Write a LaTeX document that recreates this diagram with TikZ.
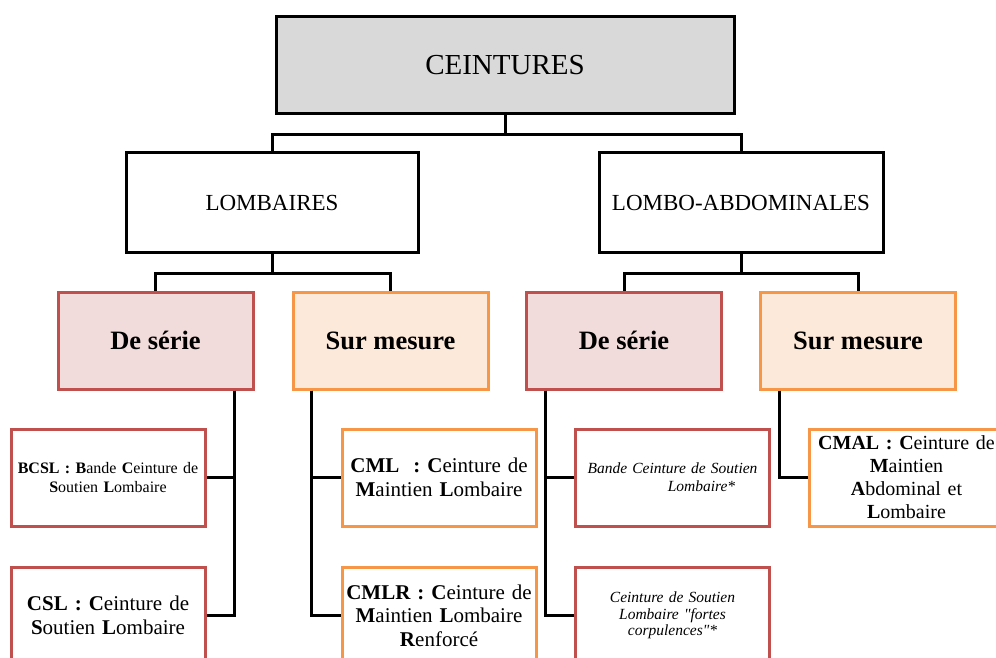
\documentclass[tikz,border=0pt]{standalone}
\usepackage{fontspec}
\setmainfont{Liberation Serif}
\definecolor{greyfill}{HTML}{D9D9D9}
\definecolor{rosefill}{HTML}{F2DCDB}
\definecolor{roseline}{HTML}{C0504D}
\definecolor{peachfill}{HTML}{FDE9D9}
\definecolor{peachline}{HTML}{F79646}
\begin{document}
\begin{tikzpicture}[x=1pt,y=-1pt,
  boxbase/.style={draw, line width=3pt, inner sep=2pt, align=center, minimum height=97pt},
  rootbox/.style={boxbase, fill=greyfill, minimum width=458pt, font=\fontsize{29}{34}\selectfont},
  groupbox/.style={boxbase, fill=white, minimum height=99pt, font=\fontsize{23}{27}\selectfont},
  seriebox/.style={boxbase, draw=roseline, fill=rosefill, minimum width=195pt, font=\bfseries\fontsize{26.5}{30}\selectfont},
  mesurebox/.style={seriebox, draw=peachline, fill=peachfill},
  seriecard/.style={boxbase, draw=roseline, fill=white, text width=190pt, font=\fontsize{21}{23.5}\selectfont},
  mesurecard/.style={seriecard, draw=peachline},
  link/.style={line width=3pt}]
\clip (0,0) rectangle (996,658);

\node[rootbox] (ceint) at (505,65) {CEINTURES};
\node[groupbox, minimum width=292pt] (lomb) at (272,202.5) {LOMBAIRES};
\node[groupbox, minimum width=284pt] (abdo) at (741,202.5) {LOMBO-ABDOMINALES};

\node[seriebox] (serieL) at (155.5,340.5) {De série};
\node[mesurebox] (mesureL) at (390.5,340.5) {Sur mesure};
\node[seriebox] (serieR) at (624,340.5) {De série};
\node[mesurebox] (mesureR) at (858,340.5) {Sur mesure};

\node[seriecard, text width=194pt, inner xsep=0pt, font=\fontsize{16}{19.5}\selectfont] (bcsl) at (108,477.5) {\textbf{BCSL :} \textbf{B}ande \textbf{C}einture de\\ \textbf{S}outien \textbf{L}ombaire};
\node[seriecard] (csl) at (108,615.5) {\textbf{CSL : C}einture de\\ \textbf{S}outien \textbf{L}ombaire};
\node[mesurecard] (cml) at (439,477.5) {\textbf{CML}\ \ \textbf{: C}einture de\\ \textbf{M}aintien \textbf{L}ombaire};
\node[mesurecard] (cmlr) at (439,615.5) {\textbf{CMLR : C}einture de\\ \textbf{M}aintien \textbf{L}ombaire\\ \textbf{R}enforcé};
\node[seriecard, font=\itshape\fontsize{15.5}{18}\selectfont] (bcslR) at (672.5,477.5) {Bande Ceinture de Soutien\\ \hspace*{58pt}Lombaire*};
\node[seriecard, font=\itshape\fontsize{15.5}{16.5}\selectfont] (cslR) at (672.5,615.5) {Ceinture de Soutien\\ Lombaire \textquotedbl fortes\\ corpulences\textquotedbl*};
\node[mesurecard, font=\fontsize{20}{23}\selectfont] (cmal) at (906.5,477.5) {\textbf{CMAL : C}einture de\\ \textbf{M}aintien\\ \textbf{A}bdominal et\\ \textbf{L}ombaire};

\draw[link] (ceint.south) -- ++(0,20) -| (lomb.north);
\draw[link] (ceint.south) -- ++(0,20) -| (abdo.north);
\draw[link] (lomb.south) -- ++(0,20) -| (serieL.north);
\draw[link] (lomb.south) -- ++(0,20) -| (mesureL.north);
\draw[link] (abdo.south) -- ++(0,20) -| (serieR.north);
\draw[link] (abdo.south) -- ++(0,20) -| (mesureR.north);

\draw[link] ([xshift=-20pt]serieL.south east) |- (bcsl.east);
\draw[link] ([xshift=-20pt]serieL.south east) |- (csl.east);
\draw[link] ([xshift=20pt]mesureL.south west) |- (cml.west);
\draw[link] ([xshift=20pt]mesureL.south west) |- (cmlr.west);
\draw[link] ([xshift=20pt]serieR.south west) |- (bcslR.west);
\draw[link] ([xshift=20pt]serieR.south west) |- (cslR.west);
\draw[link] ([xshift=20pt]mesureR.south west) |- (cmal.west);
\end{tikzpicture}
\end{document}
